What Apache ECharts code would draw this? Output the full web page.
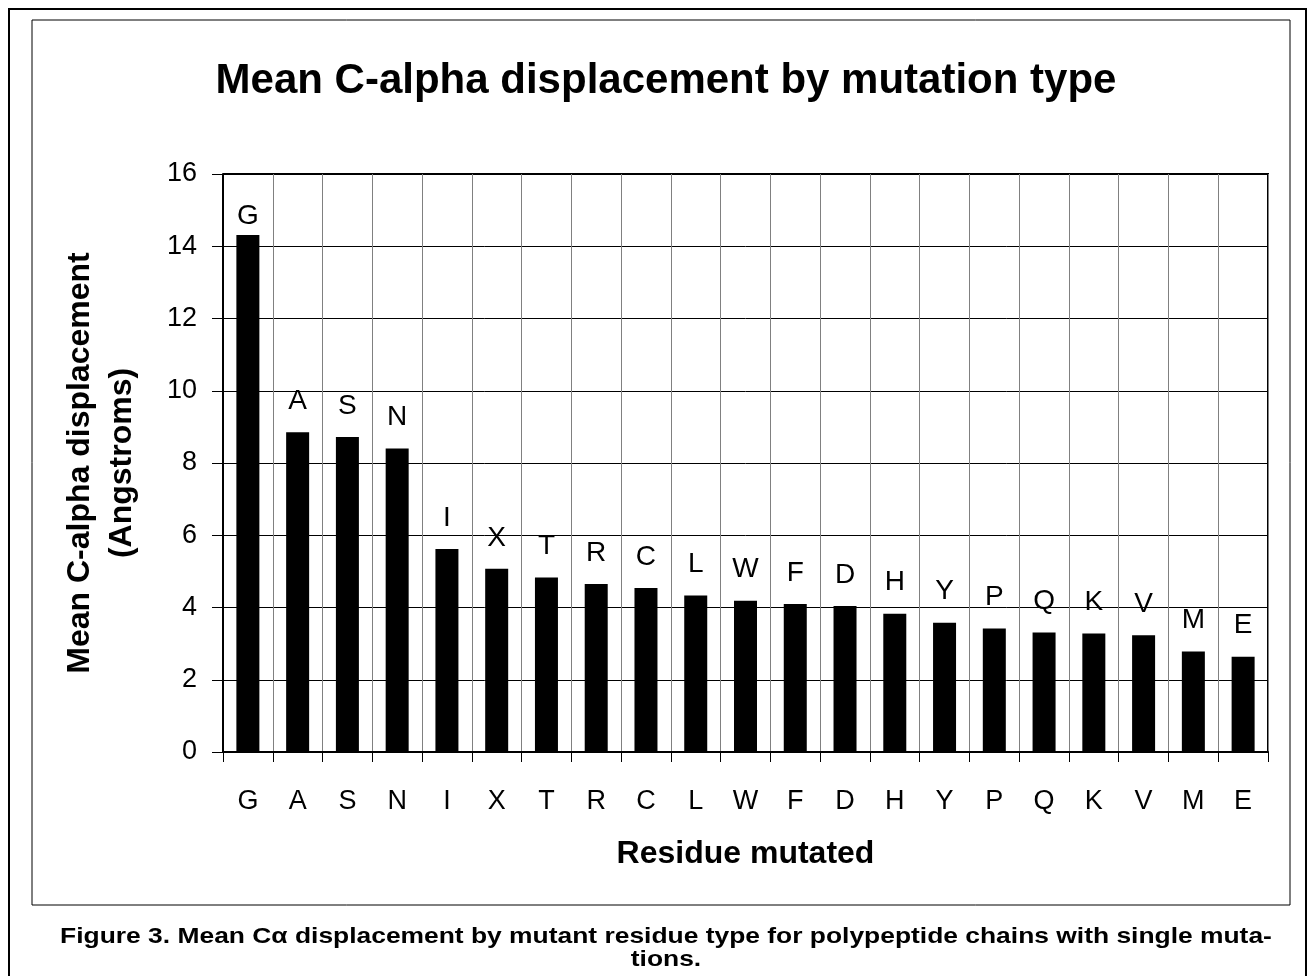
<!DOCTYPE html>
<html>
<head>
<meta charset="utf-8">
<style>
  html, body { margin: 0; padding: 0; background: #fff; }
  #chart { width: 1307px; height: 976px; }
</style>
<script src="https://cdn.jsdelivr.net/npm/echarts@6/dist/echarts.min.js"></script>
</head>
<body>
<div id="chart"></div>
<script>
// residues, ordered as in the figure
const residues = ['G', 'A', 'S', 'N', 'I', 'X', 'T', 'R', 'C', 'L', 'W', 'F', 'D', 'H', 'Y', 'P', 'Q', 'K', 'V', 'M', 'E']
// mean C-alpha displacement (Angstroms)
const displacement = [14.31, 8.85, 8.72, 8.40, 5.62, 5.07, 4.83, 4.65, 4.54, 4.33, 4.19, 4.10, 4.04, 3.83, 3.58, 3.42, 3.31, 3.28, 3.23, 2.78, 2.64]
const yTicks = [0, 2, 4, 6, 8, 10, 12, 14, 16]

const font = 'Liberation Sans, Arial, sans-serif'
const chart = echarts.init(document.getElementById('chart'))

const option = {
  animation: false,
  backgroundColor: '#fff',
  textStyle: { fontFamily: font },
  title: {
    text: 'Mean C-alpha displacement by mutation type',
    left: 661,
    textAlign: 'center',
    top: 55,
    textStyle: { fontFamily: font, fontSize: 42, fontWeight: 'bold', color: '#000' }
  },
  grid: { left: 223, top: 174, width: 1045, height: 578 },
  xAxis: {
    type: 'category',
    data: residues,
    name: 'Residue mutated',
    nameLocation: 'middle',
    nameGap: 86,
    nameTextStyle: { fontFamily: font, fontSize: 32, fontWeight: 'bold', color: '#000' },
    axisLine: { lineStyle: { color: '#000', width: 2 } },
    axisTick: { show: true, length: 10, lineStyle: { color: '#000' } },
    axisLabel: { margin: 36, fontSize: 27, color: '#000', fontFamily: font },
    splitLine: { show: true, lineStyle: { color: '#808080', width: 1 } }
  },
  yAxis: {
    type: 'value',
    min: 0,
    max: 16,
    interval: 2,
    name: 'Mean C-alpha displacement\n(Angstroms)',
    nameLocation: 'middle',
    nameGap: 80,
    nameTextStyle: { fontFamily: font, fontSize: 32, fontWeight: 'bold', color: '#000', lineHeight: 42 },
    axisLine: { show: true, lineStyle: { color: '#000', width: 2 } },
    axisTick: { show: true, length: 11, lineStyle: { color: '#000' } },
    axisLabel: {
      margin: 26,
      fontSize: 27,
      color: '#000',
      fontFamily: font,
      formatter: v => yTicks.includes(v) ? String(v) : ''
    },
    splitLine: { show: true, lineStyle: { color: '#000', width: 1 } }
  },
  series: [
    {
      type: 'bar',
      data: displacement.map((v, i) => i === 0
        ? { value: v, label: { distance: 5 } }
        : v),
      barWidth: 23,
      itemStyle: { color: '#000' },
      label: {
        show: true,
        position: 'top',
        distance: 17,
        formatter: '{b}',
        fontSize: 28,
        color: '#000',
        fontFamily: font
      }
    }
  ],
  graphic: [
    // outer frame
    { type: 'rect', shape: { x: 9, y: 9, width: 1297, height: 990 }, style: { fill: null, stroke: '#000', lineWidth: 2 }, silent: true },
    // chart area frame
    { type: 'rect', shape: { x: 32, y: 20, width: 1258, height: 885 }, style: { fill: null, stroke: '#000', lineWidth: 1 }, silent: true },
    // plot top and right edges
    { type: 'polyline', shape: { points: [[223, 174], [1268, 174], [1268, 752]] }, style: { fill: null, stroke: '#000', lineWidth: 2 }, silent: true },
    {
      type: 'text',
      x: 666,
      y: 925,
      scaleX: 1.2,
      style: {
        text: 'Figure 3. Mean C\u03b1 displacement by mutant residue type for polypeptide chains with single muta-\ntions.',
        font: 'bold 22px ' + font,
        fill: '#000',
        align: 'center',
        lineHeight: 23
      }
    }
  ]
}
chart.setOption(option)

window.addEventListener('resize', function() {
  chart.resize()
})
</script>
</body>
</html>
